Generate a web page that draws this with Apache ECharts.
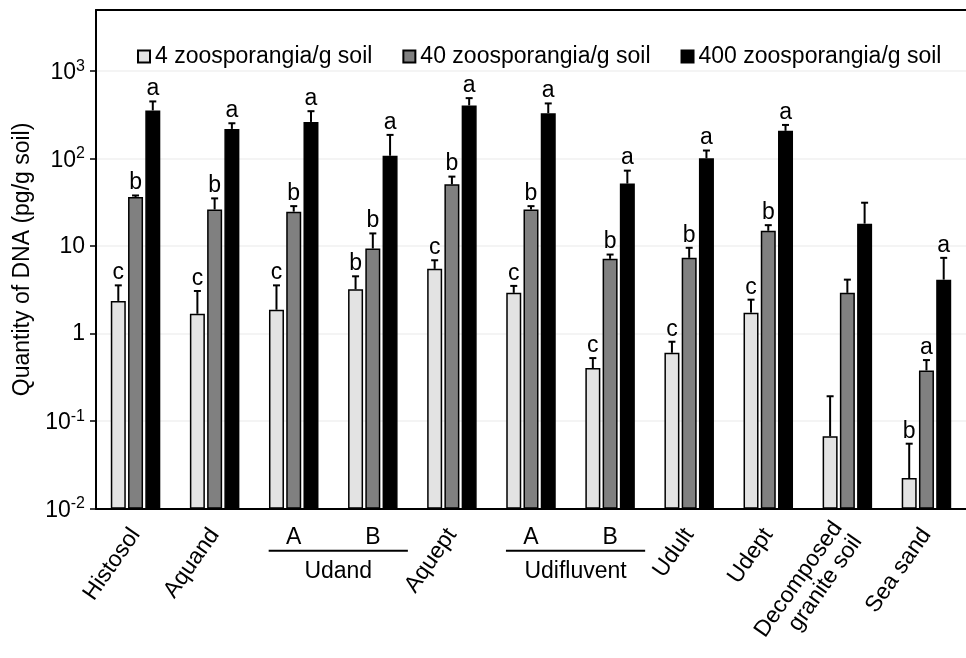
<!DOCTYPE html>
<html><head><meta charset="utf-8">
<script src="https://cdn.jsdelivr.net/npm/echarts@6/dist/echarts.min.js"></script>
<style>html,body{margin:0;padding:0;background:#fff}#c{width:966px;height:658px}</style>
</head><body><div id="c"></div>
<script>
const categories = ['Histosol','Aquand','Udand A','Udand B','Aquept','Udifluvent A','Udifluvent B','Udult','Udept','Decomposed granite soil','Sea sand'];
const tickLabels = ['Histosol','Aquand','','','Aquept','','','Udult','Udept','Decomposed\ngranite soil','Sea sand'];
const subLabels = ['','','A','B','','A','B','','','',''];
const groupLabels = [{name:'Udand', from:2, to:3},{name:'Udifluvent', from:5, to:6}];
const seriesNames = ['4 zoosporangia/g soil','40 zoosporangia/g soil','400 zoosporangia/g soil'];
const dna4 = [2.37,1.69,1.88,3.22,5.51,2.93,0.405,0.606,1.74,0.0673,0.0224];
const dna4Err = [3.57,3.08,3.57,4.53,6.91,3.52,0.527,0.81,2.45,0.193,0.0554];
const dna40 = [36.4,26.3,24.8,9.41,50.9,26.3,7.17,7.36,15.0,2.93,0.380];
const dna40Err = [38,35.2,28.7,14.0,62.4,28.7,8.03,9.59,17.4,4.15,0.50];
const dna400 = [356,219,263,108,406,331,51.9,101,208,18.1,4.15];
const dna400Err = [451,254,349,187,492,428,73,124,243,31.4,7.36];
const letters4 = ['c','c','c','b','c','c','c','c','c','','b'];
const letters40 = ['b','b','b','b','b','b','b','b','b','','a'];
const letters400 = ['a','a','a','a','a','a','a','a','a','','a'];
const yTickLabels = {'-2':'{b|10}{s|-2}','-1':'{b|10}{s|-1}','0':'1','1':'10','2':'{b|10}{s|2}','3':'{b|10}{s|3}'};

const FONT = '"Liberation Sans", Arial, sans-serif';
const FS = 23;
const BAR_W = 15, BAR_GAP = 0.15;
const fills = ['#e3e3e3','#808080','#000000'];

function barSeries(idx, vals) {
  return {
    type:'bar', name: seriesNames[idx], data: vals, barWidth: BAR_W, barGap: (BAR_GAP*100)+'%',
    itemStyle:{color: fills[idx], borderColor:'#000', borderWidth:1.5},
    emphasis:{disabled:true}
  };
}
function errSeries(idx, vals, errs, letters) {
  return {
    type:'custom', name:'err'+idx, z:5, silent:true,
    data: vals.map((v,i)=>[i, v, errs[i]]),
    renderItem(params, api) {
      const i = api.value(0);
      const off = (idx-1)*BAR_W*(1+BAR_GAP);
      const p0 = api.coord([i, api.value(1)]);
      const p1 = api.coord([i, api.value(2)]);
      const x = p0[0] + off;
      return {type:'group', children:[
        {type:'line', shape:{x1:x,y1:p0[1],x2:x,y2:p1[1]}, style:{stroke:'#000',lineWidth:2}},
        {type:'line', shape:{x1:x-3.5,y1:p1[1],x2:x+3.5,y2:p1[1]}, style:{stroke:'#000',lineWidth:2}},
        {type:'text', x:x, y:p1[1]-1, style:{text:letters[params.dataIndex], fill:'#000', fontSize:FS, fontFamily:FONT, align:'center', verticalAlign:'bottom'}}
      ]};
    }
  };
}

const chart = echarts.init(document.getElementById('c'), null, {renderer:'canvas'});
const option = {
  animation:false,
  textStyle:{fontFamily:FONT},
  grid:{left:96, top:10, width:877, height:499, containLabel:false},
  legend:{
    data: seriesNames, left:132, top:40, itemWidth:12, itemHeight:12, itemGap:30, icon:'rect',
    textStyle:{fontSize:FS, color:'#000', fontFamily:FONT}, selectedMode:false
  },
  xAxis:[{
    type:'category', data: categories, position:'bottom',
    axisLine:{lineStyle:{color:'#000', width:2}},
    axisTick:{show:false},
    axisLabel:{interval:0, rotate:55, margin:22, fontSize:FS, color:'#000', fontFamily:FONT, lineHeight:24,
      formatter:(v, i)=>tickLabels[i]}
  },{
    type:'category', data: categories, position:'top',
    axisLine:{lineStyle:{color:'#000', width:2}}, axisTick:{show:false}, axisLabel:{show:false}
  }],
  yAxis:{
    type:'log', logBase:10, min:0.01, max:5000, startValue:0.01,
    name:'Quantity of DNA (pg/g soil)', nameLocation:'middle', nameGap:54, nameRotate:90,
    nameTextStyle:{fontSize:FS, color:'#000', fontFamily:FONT},
    axisLine:{show:true, lineStyle:{color:'#000', width:2}},
    axisTick:{show:true, length:6, lineStyle:{color:'#000', width:1.5}},
    splitLine:{show:true, lineStyle:{color:'#f0f0f0', width:1.5}},
    axisLabel:{showMaxLabel:false, margin:11, color:'#000', fontSize:FS, fontFamily:FONT,
      formatter:(v)=>{const e=Math.round(Math.log10(v)); return yTickLabels[String(e)] || '';},
      rich:{b:{fontSize:FS, fontFamily:FONT, color:'#000', lineHeight:26, verticalAlign:'bottom'},
            s:{fontSize:16, fontFamily:FONT, color:'#000', lineHeight:16, verticalAlign:'top'}}}
  },
  series:[
    barSeries(0, dna4), barSeries(1, dna40), barSeries(2, dna400),
    errSeries(0, dna4, dna4Err, letters4), errSeries(1, dna40, dna40Err, letters40), errSeries(2, dna400, dna400Err, letters400)
  ]
};
chart.setOption(option);

const bottomY = chart.convertToPixel({yAxisIndex:0}, 0.01);
const step = chart.convertToPixel({xAxisIndex:0}, 1) - chart.convertToPixel({xAxisIndex:0}, 0);
const graphics = [];
subLabels.forEach((t, i) => {
  if (!t) return;
  const x = chart.convertToPixel({xAxisIndex:0}, i);
  graphics.push({type:'text', x:x, y:bottomY+29, style:{text:t, fontSize:FS, fontFamily:FONT, fill:'#000', align:'center', verticalAlign:'middle'}});
});
groupLabels.forEach(g => {
  const xa = chart.convertToPixel({xAxisIndex:0}, g.from);
  const xb = chart.convertToPixel({xAxisIndex:0}, g.to);
  const mid = (xa + xb)/2 + 5;
  const half = step*0.88;
  graphics.push({type:'line', shape:{x1:mid-half, y1:bottomY+42, x2:mid+half, y2:bottomY+42}, style:{stroke:'#000', lineWidth:2}});
  graphics.push({type:'text', x:mid, y:bottomY+63, style:{text:g.name, fontSize:FS, fontFamily:FONT, fill:'#000', align:'center', verticalAlign:'middle'}});
});
chart.setOption({graphic: graphics});
</script></body></html>
